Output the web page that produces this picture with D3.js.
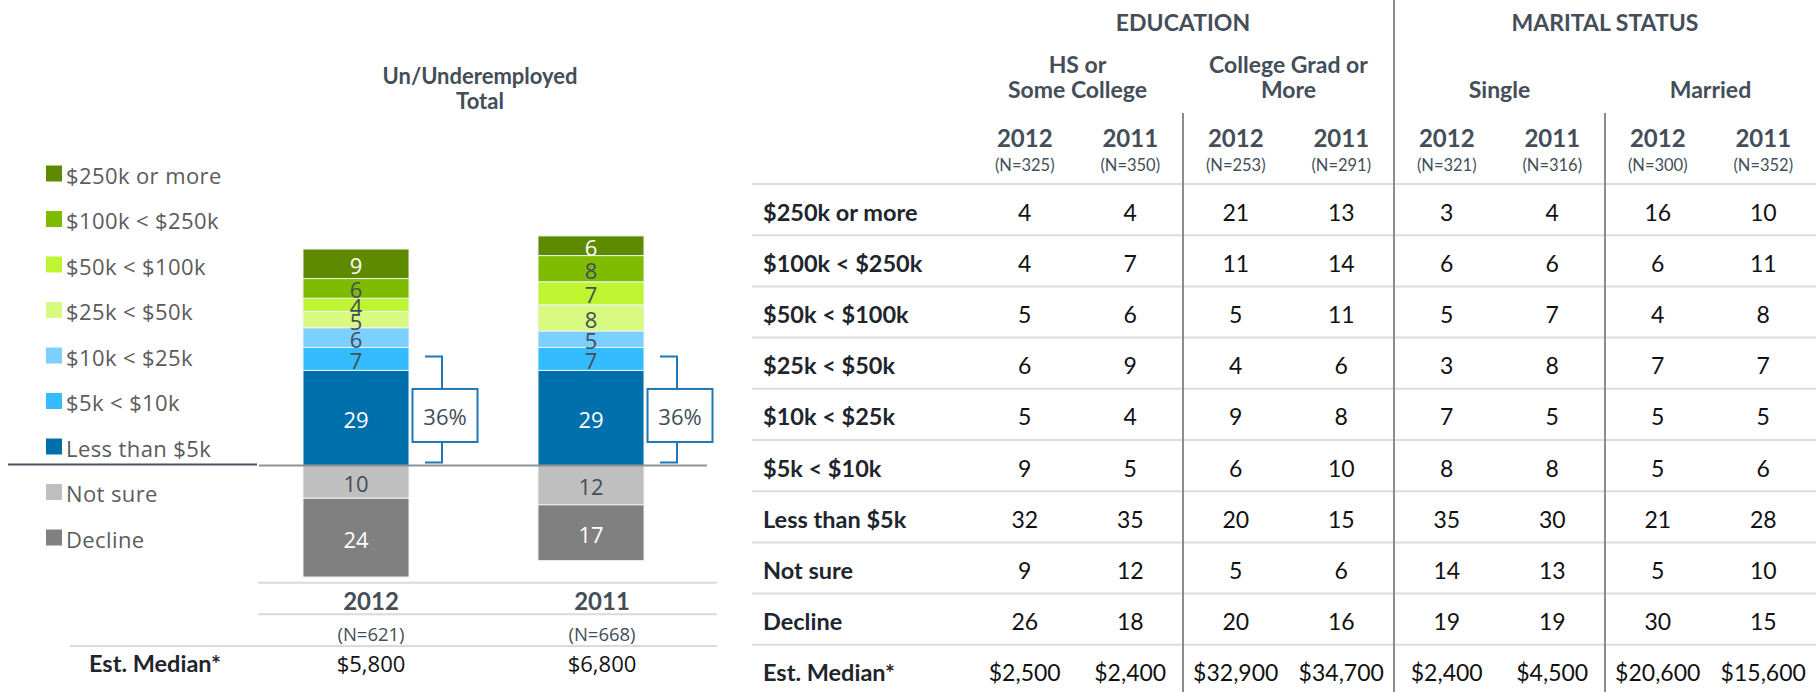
<!DOCTYPE html>
<html>
<head>
<meta charset="utf-8">
<script src="https://cdn.jsdelivr.net/npm/d3@7"></script>
<style>
body { margin: 0; background: #fff; }
svg { display: block; }
</style>
</head>
<body>
<div id="chart"></div>
<script>
// income categories, top to bottom (legend order)
var categories = ["$250k or more", "$100k < $250k", "$50k < $100k", "$25k < $50k",
	"$10k < $25k", "$5k < $10k", "Less than $5k", "Not sure", "Decline"];
var catColors = ["#5e8a00", "#7fbc00", "#bdf631", "#d9fa80", "#7bd0ff", "#35bcff", "#0070ad", "#bfbfbf", "#808080"];
var catTextColors = ["#fff", "#434e59", "#434e59", "#434e59", "#434e59", "#434e59", "#fff", "#434e59", "#fff"];

// left chart: Un/Underemployed total
var years = ["2012", "2011"];
var total2012 = [9, 6, 4, 5, 6, 7, 29, 10, 24];
var total2011 = [6, 8, 7, 8, 5, 7, 29, 12, 17];
var totalN = ["(N=621)", "(N=668)"];
var totalMedian = ["$5,800", "$6,800"];
var bracketLabel = ["36%", "36%"];

// right table
var groups = ["EDUCATION", "MARITAL STATUS"];
var subgroups = [["HS or", "Some College"], ["College Grad or", "More"], ["Single"], ["Married"]];
var colYears = ["2012", "2011", "2012", "2011", "2012", "2011", "2012", "2011"];
var colN = ["(N=325)", "(N=350)", "(N=253)", "(N=291)", "(N=321)", "(N=316)", "(N=300)", "(N=352)"];
var hs2012 = [4, 4, 5, 6, 5, 9, 32, 9, 26];
var hs2011 = [4, 7, 6, 9, 4, 5, 35, 12, 18];
var college2012 = [21, 11, 5, 4, 9, 6, 20, 5, 20];
var college2011 = [13, 14, 11, 6, 8, 10, 15, 6, 16];
var single2012 = [3, 6, 5, 3, 7, 8, 35, 14, 19];
var single2011 = [4, 6, 7, 8, 5, 8, 30, 13, 19];
var married2012 = [16, 6, 4, 7, 5, 5, 21, 5, 30];
var married2011 = [10, 11, 8, 7, 5, 6, 28, 10, 15];
var colMedians = ["$2,500", "$2,400", "$32,900", "$34,700", "$2,400", "$4,500", "$20,600", "$15,600"];

var width = 1816;
var height = 692;

var calibri = "Lato, 'Liberation Sans', sans-serif";
var segoe = "'Open Sans', 'Noto Sans', sans-serif";
var slate = "#434e59";

var svg = d3.select("#chart")
	.append("svg")
	.attr("width", width)
	.attr("height", height);

//---------- left: stacked bars ----------
var baseline = 465.5;
var unit = 3.28;
var y = d3.scaleLinear()
	.domain([-40, 75])
	.range([baseline + 40 * unit, baseline - 75 * unit]);

var xBar = d3.scalePoint().domain(years).range([356, 591]);
var barW = 106;

var totals = { "2012": total2012, "2011": total2011 };

// build segments: positive ones stack up from "Less than $5k", negatives go down
var segments = [];
years.forEach(function(yr) {
	var vals = totals[yr];
	var up = 0;
	for (var i = 6; i >= 0; i--) {
		segments.push({ year: yr, cat: i, v: vals[i], y0: up, y1: up + vals[i] });
		up += vals[i];
	}
	var down = 0;
	for (var j = 7; j <= 8; j++) {
		segments.push({ year: yr, cat: j, v: vals[j], y0: down - vals[j], y1: down });
		down -= vals[j];
	}
});

svg.append("text")
	.attr("x", 480).attr("y", 75)
	.attr("text-anchor", "middle").attr("dominant-baseline", "central")
	.style("font-family", calibri).style("font-weight", "bold")
	.style("font-size", "22px").attr("fill", slate)
	.text("Un/Underemployed");
svg.append("text")
	.attr("x", 480).attr("y", 100)
	.attr("text-anchor", "middle").attr("dominant-baseline", "central")
	.style("font-family", calibri).style("font-weight", "bold")
	.style("font-size", "22px").attr("fill", slate)
	.text("Total");

var barG = svg.append("g");
barG.selectAll("rect")
	.data(segments)
	.enter()
	.append("rect")
	.attr("x", function(d) { return xBar(d.year) - barW / 2; })
	.attr("y", function(d) { return y(d.y1); })
	.attr("width", barW)
	.attr("height", function(d) { return y(d.y0) - y(d.y1); })
	.attr("fill", function(d) { return catColors[d.cat]; })
	.attr("stroke", "#eef3f0")
	.attr("stroke-width", 1);

barG.selectAll("text")
	.data(segments)
	.enter()
	.append("text")
	.attr("x", function(d) { return xBar(d.year); })
	.attr("y", function(d) { return y((d.y0 + d.y1) / 2) + 1; })
	.attr("text-anchor", "middle")
	.attr("dominant-baseline", "central")
	.style("font-family", segoe)
	.style("font-size", "22px")
	.attr("fill", function(d) { return catTextColors[d.cat]; })
	.text(function(d) { return d.v; });

// baseline separators
svg.append("line")
	.attr("x1", 8).attr("x2", 257)
	.attr("y1", y(0) - 1).attr("y2", y(0) - 1)
	.attr("stroke", "#46525e").attr("stroke-width", 2);
svg.append("line")
	.attr("x1", 259).attr("x2", 707)
	.attr("y1", y(0)).attr("y2", y(0))
	.attr("stroke", "#8e9398").attr("stroke-width", 2);

// brackets around the two lowest income groups
var bracketColor = "#1f78b4";
years.forEach(function(yr, i) {
	var vals = totals[yr];
	var sum = vals[5] + vals[6];
	var lx = xBar(yr) + 86;
	var top = y(sum) + 9;
	var bot = y(0) - 3;
	var boxH = 53, boxW = 65;
	var cy = (top + bot) / 2 + 6;
	var g = svg.append("g")
		.attr("fill", "none")
		.attr("stroke", bracketColor)
		.attr("stroke-width", 2);
	g.append("path")
		.attr("d", "M" + (lx - 17) + "," + top + "H" + lx + "V" + (cy - boxH / 2));
	g.append("path")
		.attr("d", "M" + lx + "," + (cy + boxH / 2) + "V" + bot + "H" + (lx - 17));
	g.append("rect")
		.attr("x", lx + 3 - boxW / 2).attr("y", cy - boxH / 2)
		.attr("width", boxW).attr("height", boxH)
		.attr("fill", "#fff");
	svg.append("text")
		.attr("x", lx + 3).attr("y", cy + 1)
		.attr("text-anchor", "middle").attr("dominant-baseline", "central")
		.style("font-family", segoe).style("font-size", "22px")
		.attr("fill", slate)
		.text(bracketLabel[i]);
});

// legend
var legY = d3.scalePoint().domain(categories).range([173.5, 537.5]);
var leg = svg.append("g").selectAll("g")
	.data(categories)
	.enter()
	.append("g")
	.attr("transform", function(d) { return "translate(46," + legY(d) + ")"; });
leg.append("rect")
	.attr("x", 0).attr("y", -8)
	.attr("width", 16).attr("height", 16)
	.attr("fill", function(d, i) { return catColors[i]; });
leg.append("text")
	.attr("x", 20).attr("y", 1)
	.attr("dominant-baseline", "central")
	.style("font-family", segoe)
	.style("font-size", "22px")
	.style("letter-spacing", "0.4px")
	.attr("fill", "#5b5b5b")
	.text(function(d) { return d; });

// little table under the bars
var xCol = d3.scalePoint().domain(years).range([371, 602]);
var lines = [
	{ y: 582.7, x1: 258 },
	{ y: 614.3, x1: 258 },
	{ y: 646, x1: 70 }
];
svg.selectAll(".lt-line")
	.data(lines)
	.enter()
	.append("line")
	.attr("class", "lt-line")
	.attr("x1", function(d) { return d.x1; }).attr("x2", 717)
	.attr("y1", function(d) { return d.y; }).attr("y2", function(d) { return d.y; })
	.attr("stroke", "#dadada").attr("stroke-width", 2);

var lt = svg.append("g").selectAll("g")
	.data(years)
	.enter()
	.append("g");
lt.append("text")
	.attr("x", function(d) { return xCol(d); }).attr("y", 600)
	.attr("text-anchor", "middle").attr("dominant-baseline", "central")
	.style("font-family", calibri).style("font-weight", "bold").style("font-size", "24px")
	.attr("fill", slate)
	.text(function(d) { return d; });
lt.append("text")
	.attr("x", function(d) { return xCol(d); }).attr("y", 633)
	.attr("text-anchor", "middle").attr("dominant-baseline", "central")
	.style("font-family", segoe).style("font-size", "18.5px")
	.attr("fill", slate)
	.text(function(d, i) { return totalN[i]; });
lt.append("text")
	.attr("x", function(d) { return xCol(d); }).attr("y", 663)
	.attr("text-anchor", "middle").attr("dominant-baseline", "central")
	.style("font-family", segoe).style("font-size", "22px")
	.attr("fill", "#111")
	.text(function(d, i) { return totalMedian[i]; });
svg.append("text")
	.attr("x", 89).attr("y", 663)
	.attr("dominant-baseline", "central")
	.style("font-family", calibri).style("font-weight", "bold").style("font-size", "23.5px")
	.attr("fill", "#1e252c")
	.text("Est. Median*");

//---------- right: table ----------
var tableCols = [hs2012, hs2011, college2012, college2011, single2012, single2011, married2012, married2011];
var rowLabels = categories.concat(["Est. Median*"]);

var tx = d3.scaleBand().domain(d3.range(8)).range([972, 1816]);
var ty = d3.scaleBand().domain(rowLabels).range([184, 184 + 51.2 * rowLabels.length]);
function colCenter(i) { return tx(i) + tx.bandwidth() / 2; }

// row lines
svg.append("g").selectAll("line")
	.data([184].concat(rowLabels.slice(0, -1).map(function(r) { return ty(r) + ty.bandwidth(); })))
	.enter()
	.append("line")
	.attr("x1", 752).attr("x2", width)
	.attr("y1", function(d) { return d; }).attr("y2", function(d) { return d; })
	.attr("stroke", "#dcdcdc").attr("stroke-width", 2);

// vertical dividers
var dividers = [
	{ c: 2, top: 113 },
	{ c: 4, top: 0 },
	{ c: 6, top: 113 }
];
svg.append("g").selectAll("line")
	.data(dividers)
	.enter()
	.append("line")
	.attr("x1", function(d) { return tx(d.c); }).attr("x2", function(d) { return tx(d.c); })
	.attr("y1", function(d) { return d.top; }).attr("y2", height)
	.attr("stroke", "#8c8c8c").attr("stroke-width", 2);

// group headers
svg.append("g").selectAll("text")
	.data(groups)
	.enter()
	.append("text")
	.attr("x", function(d, i) { return (colCenter(i * 4) + colCenter(i * 4 + 3)) / 2; })
	.attr("y", 22)
	.attr("text-anchor", "middle").attr("dominant-baseline", "central")
	.style("font-family", calibri).style("font-weight", "bold").style("font-size", "23px")
	.attr("fill", slate)
	.text(function(d) { return d; });

// sub-group headers (bottom aligned)
subgroups.forEach(function(lns, i) {
	var cx = (colCenter(i * 2) + colCenter(i * 2 + 1)) / 2;
	lns.forEach(function(t, j) {
		svg.append("text")
			.attr("x", cx)
			.attr("y", 89 - (lns.length - 1 - j) * 25)
			.attr("text-anchor", "middle").attr("dominant-baseline", "central")
			.style("font-family", calibri).style("font-weight", "bold").style("font-size", "23px")
			.attr("fill", slate)
			.text(t);
	});
});

// year + N headers
var hdr = svg.append("g").selectAll("g")
	.data(colYears)
	.enter()
	.append("g");
hdr.append("text")
	.attr("x", function(d, i) { return colCenter(i); }).attr("y", 137)
	.attr("text-anchor", "middle").attr("dominant-baseline", "central")
	.style("font-family", calibri).style("font-weight", "bold").style("font-size", "24px")
	.attr("fill", slate)
	.text(function(d) { return d; });
hdr.append("text")
	.attr("x", function(d, i) { return colCenter(i); }).attr("y", 165)
	.attr("text-anchor", "middle").attr("dominant-baseline", "central")
	.style("font-family", calibri).style("font-size", "16.5px")
	.attr("fill", slate)
	.text(function(d, i) { return colN[i]; });

// row labels
svg.append("g").selectAll("text")
	.data(rowLabels)
	.enter()
	.append("text")
	.attr("x", 763)
	.attr("y", function(d) { return ty(d) + ty.bandwidth() / 2 + 2; })
	.attr("dominant-baseline", "central")
	.style("font-family", calibri).style("font-weight", "bold").style("font-size", "23.5px")
	.attr("fill", "#1e252c")
	.text(function(d) { return d; });

// cells
var cells = [];
tableCols.forEach(function(col, c) {
	col.forEach(function(v, r) { cells.push({ c: c, row: rowLabels[r], v: v }); });
	cells.push({ c: c, row: "Est. Median*", v: colMedians[c] });
});
svg.append("g").selectAll("text")
	.data(cells)
	.enter()
	.append("text")
	.attr("x", function(d) { return colCenter(d.c); })
	.attr("y", function(d) { return ty(d.row) + ty.bandwidth() / 2 + 2; })
	.attr("text-anchor", "middle").attr("dominant-baseline", "central")
	.style("font-family", calibri).style("font-size", "23px")
	.attr("fill", "#111")
	.text(function(d) { return d.v; });
</script>
</body>
</html>
